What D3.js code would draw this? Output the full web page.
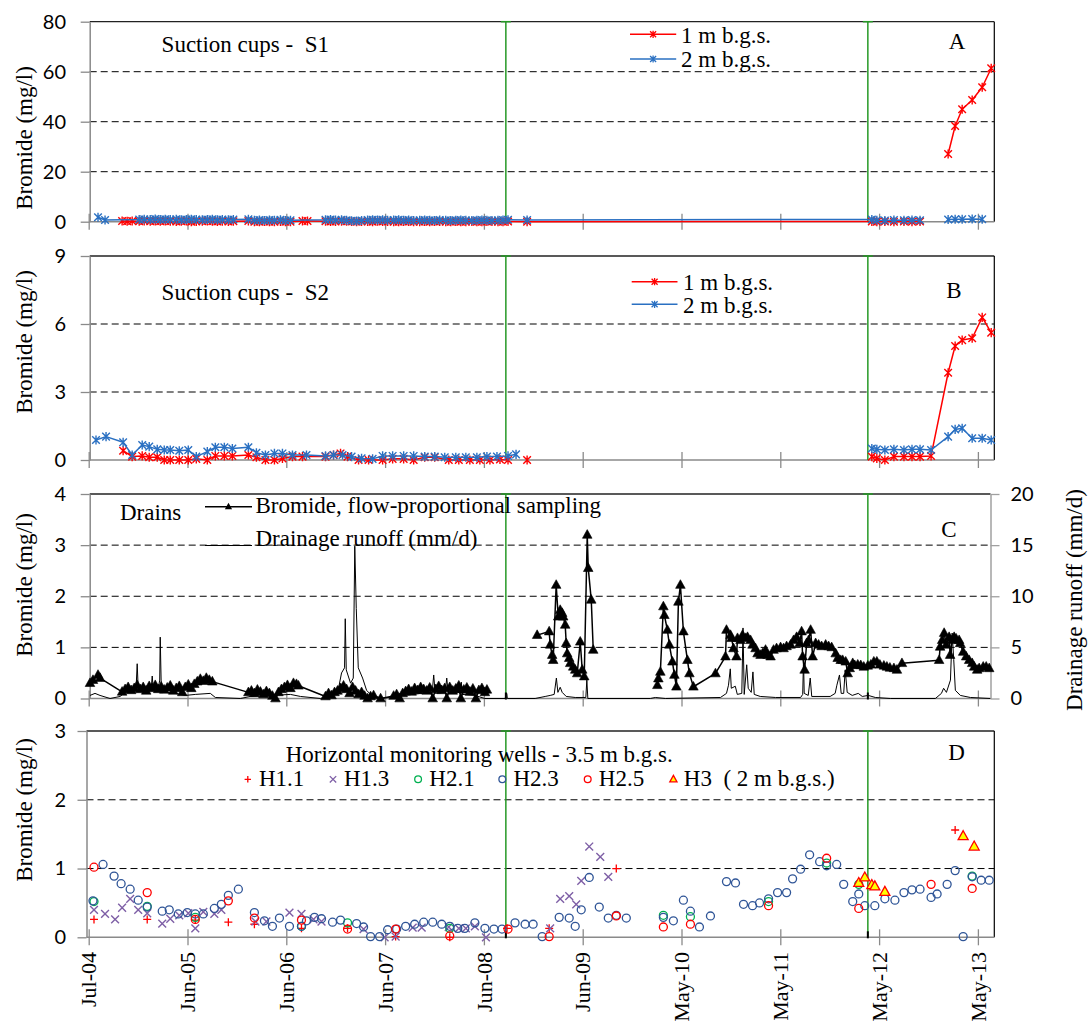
<!DOCTYPE html>
<html>
<head>
<meta charset="utf-8">
<script src="https://cdn.jsdelivr.net/npm/d3@7"></script>
<style>
  body { margin: 0; background: #fff; }
  svg { display: block; }
  text { white-space: pre; }
</style>
</head>
<body>
<svg id="chart" width="1089" height="1026"></svg>
<script>
// ---------- data (time as decimal year) ----------
const tickDates = ["2004-07-01","2005-06-26","2006-06-21","2007-06-16","2008-06-10",
                   "2009-06-05","2010-05-31","2011-05-26","2012-05-20","2013-05-15"];
const markerDates = ["2008-08-29", "2012-04-09"];

// Suction cups S1, bromide (mg/l); null breaks the line
const s1Depth1 = [[2004.83,0.3],[2004.88,0.2],[2004.93,0.3],
  [2005.00,0.2],[2005.05,0.3],[2005.11,0.2],[2005.16,0.3],[2005.21,0.2],[2005.26,0.3],[2005.31,0.2],[2005.37,0.1],[2005.42,0.2],[2005.47,0.3],[2005.52,0.0],[2005.57,0.1],[2005.63,0.2],[2005.68,0.3],[2005.73,0.2],[2005.78,0.1],[2005.83,0.2],[2005.89,0.1],[2005.94,0.2],
  [2006.09,0.3],[2006.15,0.0],[2006.20,0.0],[2006.25,0.1],[2006.30,0.0],[2006.35,0.0],[2006.41,0.1],[2006.46,0.0],[2006.51,0.0],[2006.63,0.3],[2006.68,0.3],
  [2006.86,0.2],[2006.91,0.1],[2006.96,0.1],[2007.02,0.2],[2007.07,0.2],[2007.12,0.1],[2007.17,0.0],[2007.22,0.1],[2007.28,0.1],[2007.33,0.0],[2007.38,0.2],[2007.43,0.1],[2007.48,0.1],[2007.54,0.0],[2007.59,0.0],[2007.64,0.1],[2007.69,0.1],[2007.74,0.0],[2007.80,0.0],[2007.85,0.1],[2007.90,0.0],[2007.95,0.1],[2008.00,0.1],[2008.06,0.0],[2008.11,0.0],[2008.16,0.1],[2008.21,0.0],[2008.26,0.0],[2008.32,0.1],[2008.37,0.0],[2008.42,0.0],[2008.47,0.1],[2008.52,0.1],[2008.58,0.0],[2008.63,0.0],[2008.68,0.1],
  [2008.87,0.0],
  [2012.31,0.1],[2012.36,0.0],[2012.44,0.1],[2012.53,0.0],[2012.63,0.1],[2012.71,0.0],[2012.79,0.1], null,
  [2013.07,27.1],[2013.14,38.3],[2013.21,45.0],[2013.31,48.7],[2013.41,53.8],[2013.50,61.4]];
const s1Depth2 = [[2004.59,1.8],[2004.66,0.7],
  [2005.00,0.9],[2005.05,1.0],[2005.11,0.9],[2005.16,1.1],[2005.21,0.9],[2005.26,1.0],[2005.31,0.9],[2005.37,1.0],[2005.42,0.8],[2005.47,0.9],[2005.52,1.0],[2005.57,0.9],[2005.63,0.8],[2005.68,0.9],[2005.73,1.0],[2005.78,0.8],[2005.83,0.9],[2005.89,0.8],[2005.94,0.9],
  [2006.09,1.0],[2006.15,0.6],[2006.20,0.7],[2006.25,0.5],[2006.30,0.7],[2006.35,0.6],[2006.41,0.8],[2006.46,0.5],[2006.51,0.6],
  [2006.86,0.8],[2006.91,0.9],[2006.96,0.7],[2007.02,0.8],[2007.07,0.6],[2007.12,0.4],[2007.17,0.3],[2007.22,0.5],[2007.28,0.7],[2007.33,0.8],[2007.38,0.7],[2007.43,0.8],[2007.48,0.6],[2007.54,0.7],[2007.59,0.8],[2007.64,0.6],[2007.69,0.7],[2007.74,0.5],[2007.80,0.6],[2007.85,0.7],[2007.90,0.6],[2007.95,0.5],[2008.00,0.7],[2008.06,0.6],[2008.11,0.5],[2008.16,0.6],[2008.21,0.7],[2008.26,0.6],[2008.32,0.5],[2008.37,0.6],[2008.42,0.7],[2008.47,0.6],[2008.52,0.5],[2008.58,0.6],[2008.63,0.7],[2008.68,0.8],
  [2008.87,0.7],
  [2012.31,0.9],[2012.36,0.6],[2012.44,0.5],[2012.53,0.7],[2012.63,0.6],[2012.71,0.7],[2012.79,0.6], null,
  [2013.07,0.9],[2013.14,1.0],[2013.21,1.0],[2013.31,1.1],[2013.41,1.0]];

// Suction cups S2, bromide (mg/l)
const s2Depth1 = [[2004.84,0.41],[2004.93,0.15],[2005.03,0.18],[2005.10,0.12],[2005.18,0.12],[2005.25,0.0],[2005.31,0.0],[2005.40,0.0],[2005.49,0.0],[2005.57,0.05],[2005.68,0.0],[2005.76,0.18],[2005.85,0.18],[2005.93,0.18],[2006.09,0.22],[2006.17,0.12],[2006.26,0.0],[2006.35,0.0],[2006.43,0.07],[2006.53,0.15],[2006.63,0.15],[2006.86,0.15],[2006.94,0.22],[2007.01,0.29],[2007.08,0.15],[2007.19,0.0],[2007.29,0.0],[2007.43,0.0],[2007.53,0.05],[2007.64,0.05],[2007.74,0.0],[2007.85,0.12],[2007.95,0.12],[2008.09,0.0],[2008.19,0.0],[2008.30,0.0],[2008.40,0.0],[2008.50,0.0],[2008.60,0.02],[2008.68,0.0], null, [2008.87,0.0], null,
  [2012.31,0.15],[2012.36,0.07],[2012.44,0.0],[2012.53,0.15],[2012.63,0.15],[2012.71,0.15],[2012.79,0.15],[2012.90,0.18],[2013.07,3.85],[2013.14,5.03],[2013.21,5.29],[2013.31,5.37],[2013.41,6.29],[2013.50,5.62]];
const s2Depth2 = [[2004.57,0.88],[2004.67,1.03],[2004.84,0.78],[2004.93,0.22],[2005.03,0.66],[2005.10,0.59],[2005.18,0.47],[2005.25,0.44],[2005.31,0.44],[2005.40,0.41],[2005.49,0.44],[2005.57,0.15],[2005.68,0.37],[2005.76,0.56],[2005.85,0.56],[2005.93,0.51],[2006.09,0.56],[2006.17,0.32],[2006.26,0.22],[2006.35,0.29],[2006.43,0.29],[2006.53,0.22],[2006.67,0.22],[2006.86,0.18],[2006.94,0.22],[2007.03,0.22],[2007.12,0.15],[2007.22,0.07],[2007.33,0.05],[2007.43,0.18],[2007.53,0.18],[2007.64,0.18],[2007.74,0.18],[2007.85,0.15],[2007.95,0.15],[2008.05,0.12],[2008.16,0.12],[2008.26,0.12],[2008.37,0.12],[2008.47,0.15],[2008.57,0.15],[2008.68,0.18],[2008.76,0.25], null,
  [2012.31,0.51],[2012.36,0.47],[2012.44,0.44],[2012.53,0.47],[2012.63,0.44],[2012.71,0.47],[2012.79,0.47],[2012.90,0.44],[2013.07,1.03],[2013.14,1.35],[2013.21,1.40],[2013.31,0.96],[2013.41,0.96],[2013.50,0.88]];

// Drains: bromide from flow-proportional sampling (mg/l)
const drainBromide = [[2004.51,0.30],[2004.54,0.36],[2004.59,0.46],[2004.61,0.40],
  [2004.83,0.13],[2004.86,0.18],[2004.89,0.22],[2004.92,0.16],[2004.95,0.20],[2004.98,0.26],[2005.01,0.18],[2005.04,0.22],[2005.07,0.15],[2005.10,0.24],[2005.13,0.20],[2005.16,0.26],[2005.19,0.18],[2005.22,0.23],[2005.25,0.17],[2005.28,0.21],[2005.31,0.25],[2005.34,0.15],[2005.37,0.20],[2005.40,0.24],[2005.43,0.12],[2005.46,0.22],[2005.49,0.27],[2005.52,0.20],[2005.55,0.28],[2005.58,0.33],[2005.61,0.38],[2005.64,0.34],[2005.67,0.40],[2005.70,0.36],[2005.73,0.33],
  [2006.09,0.12],[2006.12,0.15],[2006.15,0.10],[2006.18,0.17],[2006.21,0.13],[2006.24,0.08],[2006.27,0.14],[2006.30,0.10],[2006.33,0.05],[2006.36,0.00],[2006.39,0.12],[2006.42,0.18],[2006.45,0.22],[2006.48,0.26],[2006.51,0.20],[2006.54,0.30],[2006.57,0.28],[2006.59,0.25],
  [2006.86,0.04],[2006.89,0.10],[2006.92,0.06],[2006.95,0.12],[2006.98,0.15],[2007.01,0.20],[2007.04,0.25],[2007.07,0.18],[2007.10,0.10],[2007.13,0.22],[2007.16,0.15],[2007.19,0.08],[2007.22,0.12],[2007.25,0.05],[2007.28,0.00],[2007.31,0.04],[2007.34,0.06],[2007.41,0.00],
  [2007.54,0.05],[2007.57,0.08],[2007.60,0.00],[2007.63,0.10],[2007.66,0.14],[2007.69,0.18],[2007.72,0.13],[2007.75,0.20],[2007.78,0.16],[2007.81,0.22],[2007.84,0.18],[2007.87,0.15],[2007.90,0.21],[2007.93,0.00],[2007.96,0.18],[2007.99,0.24],[2008.02,0.16],[2008.05,0.20],[2008.07,0.00],[2008.10,0.22],[2008.13,0.15],[2008.16,0.19],[2008.19,0.25],[2008.21,0.00],[2008.24,0.17],[2008.27,0.21],[2008.30,0.13],[2008.33,0.19],[2008.36,0.00],[2008.39,0.16],[2008.42,0.20],[2008.45,0.12],[2008.47,0.17],
  null,
  [2008.97,1.24],[2009.09,1.31],[2009.10,1.05],[2009.12,0.85],[2009.13,0.75],[2009.16,2.22],[2009.18,1.60],[2009.20,1.73],[2009.22,1.67],[2009.23,1.60],[2009.25,1.44],[2009.26,1.08],[2009.27,0.88],[2009.29,0.79],[2009.30,0.69],[2009.33,0.62],[2009.35,0.56],[2009.37,0.49],[2009.40,1.11],[2009.42,0.56],[2009.44,0.43],[2009.47,3.20],[2009.48,2.55],[2009.51,1.93],[2009.53,0.95],
  null,
  [2010.17,0.26],[2010.18,0.39],[2010.20,0.52],[2010.23,1.80],[2010.24,1.63],[2010.27,1.34],[2010.29,1.05],[2010.32,0.72],[2010.34,0.46],[2010.36,0.23],[2010.38,1.89],[2010.40,2.22],[2010.43,1.31],[2010.47,0.75],[2010.49,0.49],[2010.53,0.23],[2010.75,0.49],[2010.85,0.82],
  [2010.86,1.34],[2010.90,1.24],[2010.91,1.18],[2010.93,0.98],[2010.96,0.82],[2010.97,1.18],[2011.00,1.14],[2011.02,1.24],[2011.05,1.18],[2011.07,1.20],[2011.10,1.14],[2011.12,1.05],[2011.15,0.98],[2011.17,0.88],[2011.20,0.85],[2011.22,0.88],[2011.25,0.95],[2011.27,0.85],[2011.30,0.82],[2011.33,0.95],[2011.36,0.98],[2011.40,1.00],[2011.43,0.98],[2011.46,1.02],[2011.50,1.05],[2011.53,1.14],[2011.56,1.20],[2011.59,1.08],[2011.61,1.31],[2011.62,0.82],[2011.64,0.56],[2011.66,1.08],[2011.68,1.14],[2011.70,1.34],[2011.72,0.82],[2011.75,1.08],[2011.78,1.05],[2011.81,1.02],[2011.85,1.05],[2011.88,1.02],[2011.91,1.00],[2011.95,0.88],[2011.97,0.79],[2012.00,0.75],[2012.02,0.75],[2012.05,0.72],[2012.07,0.49],[2012.09,0.59],[2012.12,0.69],[2012.14,0.65],[2012.17,0.66],[2012.20,0.65],[2012.23,0.62],[2012.27,0.64],[2012.30,0.66],[2012.33,0.72],[2012.36,0.72],[2012.39,0.66],[2012.43,0.64],[2012.46,0.62],[2012.49,0.60],[2012.53,0.59],[2012.56,0.56],[2012.61,0.69],
  [2012.98,0.75],[2012.99,1.01],[2013.01,1.14],[2013.03,1.28],[2013.05,1.05],[2013.08,1.20],[2013.09,0.85],[2013.11,1.14],[2013.13,1.20],[2013.15,1.17],[2013.18,1.14],[2013.19,1.08],[2013.22,0.91],[2013.25,0.82],[2013.28,0.75],[2013.31,0.69],[2013.33,0.62],[2013.36,0.56],[2013.38,0.59],[2013.42,0.62],[2013.45,0.62],[2013.48,0.59]];

// Drains: daily drainage runoff (mm/d)
const drainRunoff = [[2004.51,0.3],[2004.56,0.5],[2004.61,0.3],[2004.71,0.0],[2004.81,0.2],[2004.86,0.6],[2004.94,0.8],[2004.97,1.2],[2004.98,3.4],[2004.99,1.0],[2005.06,0.8],[2005.12,1.0],[2005.13,2.2],[2005.14,0.9],[2005.19,1.0],[2005.205,1.8],[2005.21,6.0],[2005.22,1.2],[2005.26,0.6],[2005.36,0.5],[2005.46,0.3],[2005.56,0.4],[2005.71,0.5],[2005.76,0.1],
  [2006.01,0.0],[2006.11,0.2],[2006.31,0.3],[2006.51,0.4],[2006.61,0.2],[2006.81,0.0],[2006.91,0.2],[2006.99,1.0],[2007.02,2.5],[2007.05,3.0],[2007.057,7.8],[2007.067,2.8],[2007.11,1.5],[2007.137,2.0],[2007.152,14.9],[2007.167,8.8],[2007.187,3.0],[2007.23,2.0],[2007.27,0.8],[2007.33,0.2],[2007.41,0.0],[2007.56,0.2],[2007.81,0.5],[2007.925,0.6],[2007.94,2.3],[2007.955,0.5],[2008.055,0.6],[2008.07,2.0],[2008.085,0.5],[2008.205,0.6],[2008.215,1.6],[2008.225,0.4],[2008.35,0.3],[2008.45,0.0],
  [2008.653,0.0],[2008.658,0.5],[2008.668,0.5],[2008.673,0.0],[2008.95,0.0],[2009.05,0.2],[2009.10,0.3],[2009.14,0.4],[2009.162,2.0],[2009.177,0.6],[2009.20,1.1],[2009.22,0.6],[2009.26,0.2],[2009.35,0.1],[2009.456,0.1],[2009.466,1.8],[2009.476,0.0],
  [2010.10,0.0],[2010.15,0.1],[2010.25,0.0],[2010.80,0.1],[2010.86,0.5],[2010.88,1.3],[2010.898,2.9],[2010.908,1.0],[2010.948,1.2],[2010.968,0.4],[2011.013,0.5],[2011.025,6.9],[2011.037,0.4],[2011.062,3.3],[2011.077,1.0],[2011.107,0.6],[2011.124,2.6],[2011.137,0.4],[2011.197,0.2],[2011.35,0.1],[2011.60,0.1],[2011.621,0.4],[2011.629,3.8],[2011.636,0.5],[2011.676,0.3],[2011.696,2.0],[2011.711,0.2],[2011.895,0.2],[2011.945,0.5],[2011.962,1.3],[2011.988,2.3],[2012.005,0.5],[2012.03,0.5],[2012.045,2.8],[2012.065,0.6],[2012.115,0.3],[2012.175,0.5],[2012.215,0.2],[2012.275,0.3],[2012.345,0.1],[2012.494,0.0],
  [2012.943,0.0],[2013.003,0.5],[2013.025,1.0],[2013.053,0.6],[2013.093,1.8],[2013.11,6.4],[2013.126,3.8],[2013.142,0.8],[2013.192,0.3],[2013.292,0.1],[2013.491,0.0]];

// Horizontal monitoring wells, bromide (mg/l)
const wellH11 = [[2004.55,0.26],[2005.08,0.26],[2005.56,0.25],[2005.89,0.22],[2006.15,0.19],[2006.62,0.13],[2007.08,0.13],[2007.56,0.01],[2008.10,0.00],[2008.67,0.13],[2009.09,0.13],[2009.76,1.00],[2013.14,1.56]];
const wellH13 = [[2004.55,0.40],[2004.66,0.34],[2004.76,0.26],[2004.83,0.43],[2004.91,0.56],[2004.99,0.40],[2005.08,0.35],[2005.23,0.20],[2005.31,0.27],[2005.40,0.32],[2005.49,0.35],[2005.56,0.13],[2005.64,0.37],[2005.75,0.34],[2005.82,0.40],[2006.16,0.23],[2006.27,0.23],[2006.50,0.36],[2006.62,0.34],[2006.74,0.26],[2006.82,0.23],[2007.24,0.12],[2007.45,0.00],[2007.56,0.01],[2007.73,0.14],[2007.82,0.14],[2008.09,0.15],[2008.19,0.13],[2008.26,0.13],[2008.35,0.16],[2008.46,0.00],[2009.10,0.13],[2009.20,0.56],[2009.29,0.60],[2009.36,0.48],[2009.41,0.82],[2009.49,1.32],[2009.60,1.17],[2009.68,0.88]];
const wellH21 = [[2004.55,0.52],[2005.08,0.45],[2005.56,0.29],[2006.62,0.16],[2007.08,0.21],[2008.10,0.13],[2010.23,0.32],[2010.50,0.30],[2011.28,0.52],[2011.86,1.08],[2012.18,0.77],[2013.31,0.89]];
const wellH23 = [[2004.54,0.53],[2004.64,1.06],[2004.75,0.89],[2004.82,0.78],[2004.91,0.70],[2004.99,0.54],[2005.08,0.44],[2005.23,0.38],[2005.30,0.40],[2005.39,0.34],[2005.48,0.36],[2005.56,0.34],[2005.64,0.34],[2005.75,0.42],[2005.82,0.48],[2005.89,0.61],[2005.99,0.70],[2006.15,0.36],[2006.25,0.24],[2006.33,0.16],[2006.40,0.28],[2006.50,0.16],[2006.62,0.16],[2006.67,0.24],[2006.75,0.29],[2006.82,0.27],[2006.93,0.22],[2007.01,0.25],[2007.17,0.20],[2007.24,0.15],[2007.31,0.01],[2007.40,0.01],[2007.48,0.11],[2007.57,0.12],[2007.66,0.16],[2007.75,0.19],[2007.84,0.22],[2007.93,0.22],[2008.02,0.19],[2008.10,0.16],[2008.18,0.13],[2008.25,0.13],[2008.35,0.21],[2008.45,0.13],[2008.54,0.12],[2008.62,0.12],[2008.75,0.21],[2008.85,0.19],[2008.93,0.19],[2009.02,0.01],[2009.19,0.29],[2009.29,0.28],[2009.35,0.16],[2009.41,0.40],[2009.49,0.87],[2009.59,0.44],[2009.68,0.28],[2009.76,0.32],[2009.86,0.28],[2010.23,0.29],[2010.33,0.24],[2010.43,0.54],[2010.50,0.38],[2010.59,0.15],[2010.70,0.31],[2010.86,0.81],[2010.95,0.79],[2011.03,0.48],[2011.12,0.46],[2011.19,0.50],[2011.28,0.56],[2011.37,0.65],[2011.46,0.65],[2011.52,0.85],[2011.60,0.99],[2011.69,1.20],[2011.79,1.10],[2011.86,1.04],[2011.96,1.06],[2012.03,0.77],[2012.12,0.52],[2012.18,0.63],[2012.24,0.46],[2012.34,0.46],[2012.44,0.56],[2012.54,0.54],[2012.63,0.65],[2012.71,0.69],[2012.79,0.70],[2012.90,0.58],[2012.96,0.63],[2013.06,0.77],[2013.14,0.97],[2013.22,0.01],[2013.31,0.88],[2013.40,0.83],[2013.48,0.83]];
const wellH25 = [[2004.55,1.02],[2005.08,0.65],[2005.56,0.26],[2005.89,0.53],[2006.15,0.28],[2006.62,0.25],[2007.08,0.12],[2007.56,0.12],[2008.10,0.02],[2008.68,0.12],[2009.09,0.01],[2009.76,0.31],[2010.23,0.15],[2010.50,0.19],[2011.28,0.46],[2011.86,1.15],[2012.18,0.42],[2012.90,0.77],[2013.31,0.71]];
const wellH3 = [[2012.18,0.79],[2012.24,0.87],[2012.31,0.76],[2012.34,0.74],[2012.44,0.66],[2013.22,1.47],[2013.33,1.32]];

// ---------- helpers ----------
const serif = "'Liberation Serif','Times New Roman',serif";
const sans = "Lato,'Open Sans',sans-serif";
const RED = "#ff0000", BLUE = "#2a70c2", GREEN = "#269926", AXIS = "#8a8a8a";

const toDate = t => {
  const y = Math.floor(t), a = Date.UTC(y, 0, 1), b = Date.UTC(y + 1, 0, 1);
  return new Date(a + (t - y) * (b - a));
};
const x = d3.scaleUtc()
  .domain([new Date(Date.UTC(2004, 6, 1)), new Date(Date.UTC(2013, 4, 15))])
  .range([88.7, 977.9]);
const ticks = tickDates.map(s => new Date(s + "T00:00:00Z"));
const greens = markerDates.map(s => new Date(s + "T00:00:00Z"));
const fmt = d3.utcFormat("%b-%y");
const intFmt = d3.format("d");

const svg = d3.select("#chart");

const panels = {
  A: {left: 89.7, right: 994.3, top: 21.7, bottom: 221.7, max: 80, step: 20, frameRight: true},
  B: {left: 89.7, right: 994.3, top: 256, bottom: 460, max: 9, step: 3, frameRight: true},
  C: {left: 89.7, right: 990.5, top: 494, bottom: 698.5, max: 4, step: 1, frameRight: false},
  D: {left: 86.5, right: 994.3, top: 731, bottom: 937.3, max: 3, step: 1, frameRight: true}
};

function frame(p, blackFoot) {
  const y = d3.scaleLinear().domain([0, p.max]).range([p.bottom, p.top]);
  const vals = d3.range(0, p.max + 1e-9, p.step);
  const g = svg.append("g");
  // dashed gridlines
  g.selectAll("line.grid").data(vals.filter(v => v > 0 && v < p.max)).join("line")
    .attr("x1", p.left).attr("x2", p.right)
    .attr("y1", d => y(d)).attr("y2", d => y(d))
    .attr("stroke", "#000").attr("stroke-width", 1).attr("stroke-dasharray", "7,4");
  // top border
  g.append("line").attr("x1", p.left).attr("x2", p.right).attr("y1", p.top).attr("y2", p.top)
    .attr("stroke", "#222").attr("stroke-width", 1.3);
  if (p.frameRight) {
    g.append("line").attr("x1", p.right).attr("x2", p.right).attr("y1", p.top).attr("y2", p.bottom)
      .attr("stroke", "#000").attr("stroke-width", 1.2);
  }
  // left axis
  const ax = g.append("g").attr("transform", `translate(${p.left},0)`)
    .call(d3.axisLeft(y).tickValues(vals).tickFormat(intFmt)
      .tickSize(9).tickPadding(p.left - 9 - 66).tickSizeOuter(0));
  ax.select(".domain").attr("stroke", AXIS).attr("stroke-width", 1.5);
  ax.selectAll(".tick line").attr("stroke", AXIS).attr("stroke-width", 1.3);
  ax.selectAll(".tick text").attr("font-family", sans).attr("font-size", 20).attr("fill", "#000");
  // bottom axis with crossing ticks
  const bx = g.append("g").attr("transform", `translate(0,${p.bottom})`)
    .call(d3.axisBottom(x).tickValues(ticks.filter(d => x(d) >= p.left - 3 && x(d) <= p.right)).tickSize(8).tickFormat(""));
  bx.select(".domain").remove();
  bx.selectAll(".tick line").attr("y1", -8).attr("stroke", AXIS).attr("stroke-width", 1.3);
  g.append("line").attr("x1", p.left).attr("x2", p.right).attr("y1", p.bottom).attr("y2", p.bottom)
    .attr("stroke", AXIS).attr("stroke-width", 1.5);
  // green event lines
  greens.forEach(d => {
    const gx = x(d);
    g.append("line").attr("x1", gx).attr("x2", gx).attr("y1", p.top).attr("y2", p.bottom)
      .attr("stroke", GREEN).attr("stroke-width", 1.5);
    g.append("line").attr("x1", gx - 5).attr("x2", gx + 5).attr("y1", p.top).attr("y2", p.top)
      .attr("stroke", GREEN).attr("stroke-width", 1.5);
    if (blackFoot) {
      g.append("line").attr("x1", gx).attr("x2", gx).attr("y1", p.bottom - 6).attr("y2", p.bottom + 1)
        .attr("stroke", "#000").attr("stroke-width", 2);
    }
  });
  return y;
}

const starPath = s => `M${-s},${-s}L${s},${s}M${-s},${s}L${s},${-s}M0,${-s * 1.2}L0,${s * 1.2}`;
const triPath = s => `M0,${-s * 1.1}L${s},${s * 0.7}L${-s},${s * 0.7}Z`;
const crossPath = s => `M${-s},${-s}L${s},${s}M${-s},${s}L${s},${-s}`;
const plusPath = s => `M${-s},0H${s}M0,${-s}V${s}`;

function series(y, data, color, width) {
  svg.append("path").datum(data)
    .attr("d", d3.line().defined(d => d !== null).x(d => x(toDate(d[0]))).y(d => y(d[1])))
    .attr("fill", "none").attr("stroke", color).attr("stroke-width", width).attr("stroke-linejoin", "round");
}
function markers(y, data, path, attrs) {
  const sel = svg.append("g").selectAll("path").data(data.filter(d => d !== null)).join("path")
    .attr("transform", d => `translate(${x(toDate(d[0]))},${y(d[1])})`)
    .attr("d", path);
  Object.entries(attrs).forEach(([k, v]) => sel.attr(k, v));
}
function text(str, xx, yy, opts = {}) {
  const t = svg.append("text").attr("x", xx).attr("y", yy)
    .attr("font-family", opts.family || serif).attr("font-size", opts.size || 23)
    .attr("fill", "#000").text(str);
  if (opts.anchor) t.attr("text-anchor", opts.anchor);
  if (opts.rotate) t.attr("transform", `rotate(-90,${xx},${yy})`).attr("dominant-baseline", "central");
  return t;
}
function yTitle(str, xx, yy) {
  text(str, xx, yy, {anchor: "middle", rotate: true});
}

// ---------- panel A: suction cups S1 ----------
const yA = frame(panels.A, false);
series(yA, s1Depth1, RED, 1.5);
markers(yA, s1Depth1, starPath(3.8), {stroke: RED, "stroke-width": 1.4, fill: "none"});
series(yA, s1Depth2, BLUE, 1.5);
markers(yA, s1Depth2, starPath(3.8), {stroke: BLUE, "stroke-width": 1.4, fill: "none"});
yTitle("Bromide (mg/l)", 24, 138);
text("Suction cups -  S1", 161.6, 51.7);
text("A", 957, 49.3, {anchor: "middle"});

// ---------- panel B: suction cups S2 ----------
const yB = frame(panels.B, false);
series(yB, s2Depth1, RED, 1.5);
markers(yB, s2Depth1, starPath(3.8), {stroke: RED, "stroke-width": 1.4, fill: "none"});
series(yB, s2Depth2, BLUE, 1.5);
markers(yB, s2Depth2, starPath(3.8), {stroke: BLUE, "stroke-width": 1.4, fill: "none"});
yTitle("Bromide (mg/l)", 24, 342);
text("Suction cups -  S2", 161.6, 300);
text("B", 954, 298.3, {anchor: "middle"});

// legends for A and B
function cupLegend(x1, x2, yRed, yBlue, tx) {
  [[yRed, RED, "1 m b.g.s."], [yBlue, BLUE, "2 m b.g.s."]].forEach(([yy, c, label]) => {
    svg.append("line").attr("x1", x1).attr("x2", x2).attr("y1", yy).attr("y2", yy)
      .attr("stroke", c).attr("stroke-width", 1.5);
    svg.append("path").attr("transform", `translate(${(x1 + x2) / 2},${yy})`).attr("d", starPath(3))
      .attr("stroke", c).attr("stroke-width", 1.3).attr("fill", "none");
    text(label, tx, yy + 8.3);
  });
}
cupLegend(630, 676.2, 34.3, 59, 681);
cupLegend(631.7, 677.5, 281.7, 304.3, 683);

// ---------- panel C: drains ----------
const yC = frame(panels.C, true);
const pC = panels.C;
const yC2 = d3.scaleLinear().domain([0, 20]).range([pC.bottom, pC.top]);
const rax = svg.append("g").attr("transform", `translate(${pC.right},0)`)
  .call(d3.axisRight(yC2).tickValues([0, 5, 10, 15, 20]).tickFormat(intFmt)
    .tickSize(9).tickPadding(11).tickSizeOuter(0));
rax.select(".domain").attr("stroke", "#a0a0a0").attr("stroke-width", 1.5);
rax.selectAll(".tick line").attr("stroke", "#a0a0a0").attr("stroke-width", 1.3);
rax.selectAll(".tick text").attr("font-family", sans).attr("font-size", 20).attr("fill", "#000");

series(yC2, drainRunoff, "#000", 1);
series(yC, drainBromide, "#000", 1.5);
markers(yC, drainBromide, triPath(4.8), {fill: "#000", stroke: "#000", "stroke-width": 0.6});
yTitle("Bromide (mg/l)", 24, 585);
yTitle("Drainage runoff (mm/d)", 1074, 600);
text("Drains", 120, 520);
text("C", 949, 536.7, {anchor: "middle"});
svg.append("line").attr("x1", 205).attr("x2", 252).attr("y1", 506.7).attr("y2", 506.7)
  .attr("stroke", "#000").attr("stroke-width", 1.5);
svg.append("path").attr("transform", "translate(228.5,506.7)").attr("d", triPath(3.6)).attr("fill", "#000");
text("Bromide, flow-proportional sampling", 255.5, 513);
svg.append("line").attr("x1", 205).attr("x2", 252).attr("y1", 545.5).attr("y2", 545.5)
  .attr("stroke", "#000").attr("stroke-width", 1.2);
text("Drainage runoff (mm/d)", 255.5, 546);

// ---------- panel D: horizontal monitoring wells ----------
const yD = frame(panels.D, true);
markers(yD, wellH11, plusPath(4), {stroke: RED, "stroke-width": 1.3, fill: "none"});
markers(yD, wellH13, crossPath(3.9), {stroke: "#7e5fa6", "stroke-width": 1.4, fill: "none"});
markers(yD, wellH21, d3.symbol(d3.symbolCircle, 50)(), {stroke: "#00b050", "stroke-width": 1.3, fill: "none"});
markers(yD, wellH23, d3.symbol(d3.symbolCircle, 50)(), {stroke: "#2f5597", "stroke-width": 1.3, fill: "none"});
markers(yD, wellH25, d3.symbol(d3.symbolCircle, 50)(), {stroke: RED, "stroke-width": 1.3, fill: "none"});
markers(yD, wellH3, triPath(5), {stroke: RED, "stroke-width": 1.3, fill: "#ffff00"});
yTitle("Bromide (mg/l)", 24, 810);
text("Horizontal monitoring wells - 3.5 m b.g.s.", 285.7, 761.7);
text("D", 956.5, 760, {anchor: "middle"});

const legY = 779.3;
const legendItems = [
  {px: 247.8, tx: 259, label: "H1.1", d: plusPath(3.2), stroke: RED, fill: "none"},
  {px: 333, tx: 344, label: "H1.3", d: crossPath(3.2), stroke: "#7e5fa6", fill: "none"},
  {px: 418.1, tx: 429.3, label: "H2.1", d: d3.symbol(d3.symbolCircle, 36)(), stroke: "#00b050", fill: "none"},
  {px: 502.3, tx: 513.4, label: "H2.3", d: d3.symbol(d3.symbolCircle, 36)(), stroke: "#2f5597", fill: "none"},
  {px: 587.7, tx: 598.8, label: "H2.5", d: d3.symbol(d3.symbolCircle, 36)(), stroke: RED, fill: "none"},
  {px: 673.4, tx: 683.8, label: "H3  ( 2 m b.g.s.)", d: triPath(3.6), stroke: RED, fill: "#ffff00"}
];
legendItems.forEach(it => {
  svg.append("path").attr("transform", `translate(${it.px},${legY})`).attr("d", it.d)
    .attr("stroke", it.stroke).attr("stroke-width", 1.3).attr("fill", it.fill);
  text(it.label, it.tx, 786);
});

// x tick labels (bottom panel only)
ticks.forEach(d => {
  svg.append("text")
    .attr("transform", `translate(${x(d)},952) rotate(-90)`)
    .attr("text-anchor", "end").attr("dy", "0.35em")
    .attr("font-family", serif).attr("font-size", 22).attr("fill", "#000")
    .text(fmt(d));
});
</script>
</body>
</html>
